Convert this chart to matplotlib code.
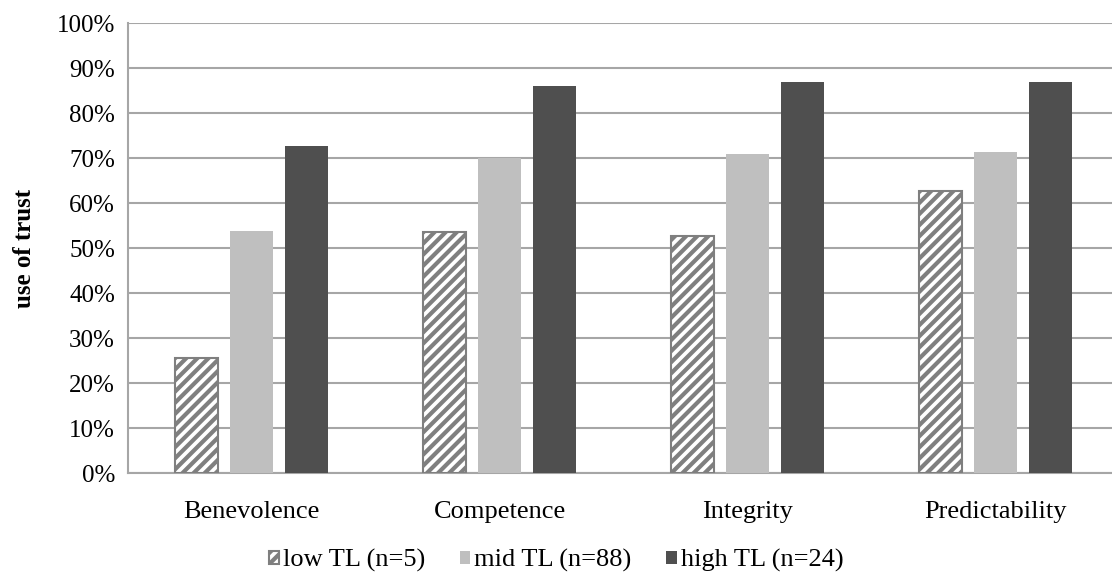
import numpy as np
import matplotlib
matplotlib.use('Agg')
import matplotlib.pyplot as plt
from matplotlib.ticker import PercentFormatter

# Share of respondents using each trust dimension, by trust level group
categories = ['Benevolence', 'Competence', 'Integrity', 'Predictability']
low_tl = [25.5, 53.6, 52.7, 62.7]
mid_tl = [53.8, 70.1, 70.8, 71.4]
high_tl = [72.7, 86.0, 86.8, 86.8]
series_labels = ['low TL (n=5)', 'mid TL (n=88)', 'high TL (n=24)']
y_ticks = list(range(0, 101, 10))

plt.rcParams['font.family'] = ['Liberation Serif', 'DejaVu Serif']
plt.rcParams['hatch.linewidth'] = 3.0
plt.rcParams['hatch.color'] = '#7f7f7f'

fig = plt.figure(figsize=(11.12, 5.77), dpi=100)
ax = fig.add_axes([0.1147, 0.1802, 0.892, 0.7799])

x = np.arange(len(categories)) + 0.5
w = 0.173
step = 0.221

ax.bar(x - step, low_tl, w, color='white', edgecolor='#7f7f7f', linewidth=1.5,
       hatch='///', label=series_labels[0], zorder=3)
ax.bar(x, mid_tl, w, color='#bfbfbf', label=series_labels[1], zorder=3)
ax.bar(x + step, high_tl, w, color='#4f4f4f', label=series_labels[2], zorder=3)

ax.set_xlim(0, len(categories))
ax.set_ylim(0, 100)
ax.set_yticks(y_ticks)
ax.yaxis.set_major_formatter(PercentFormatter(decimals=0))
ax.set_xticks(x)
ax.set_xticklabels(categories)
ax.tick_params(axis='both', length=0, colors='black')
ax.tick_params(axis='y', pad=9, labelsize=18)
ax.tick_params(axis='x', pad=20, labelsize=19)
ax.grid(axis='y', color='#a6a6a6', linewidth=1.5, zorder=0)
for side in ['top', 'right']:
    ax.spines[side].set_visible(False)
for side in ['left', 'bottom']:
    ax.spines[side].set_color('#a6a6a6')
    ax.spines[side].set_linewidth(1.5)

ax.set_ylabel('use of trust', fontsize=18, fontweight='bold', labelpad=15)

fig.legend(loc='center', bbox_to_anchor=(0.5, 0.028), ncol=3, frameon=False,
           fontsize=19, handlelength=0.4, handleheight=0.4, handletextpad=0.15,
           columnspacing=1.3)

fig.savefig('out.png', dpi=100)
